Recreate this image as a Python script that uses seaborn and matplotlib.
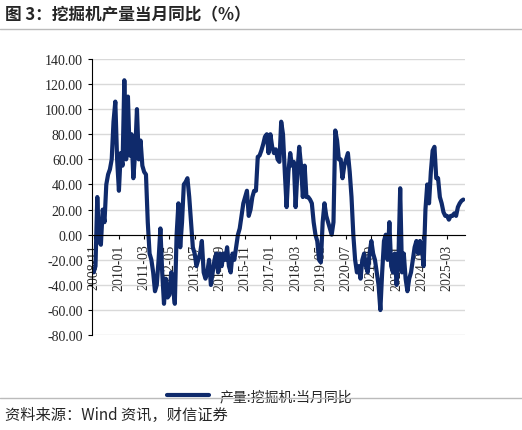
import numpy as np
import pandas as pd
import matplotlib
matplotlib.use('Agg')
import matplotlib.pyplot as plt
import seaborn as sns

# monthly yoy, 2008-11 .. 2025-12
y2008 = [-30, -25]
y2009 = [30, -5, -8, 20, 10, 40, 48, 52, 60, 90, 106, 60]
y2010 = [35, 65, 55, 123, 60, 110, 63, 80, 45, 65, 100, 60]
y2011 = [75, 55, 50, 48, 10, -15, -20, -30, -45, -40, -20, 5]
y2012 = [-30, -55, -35, -50, -48, -30, -42, -55, 0, 25, -10, 10]
y2013 = [40, 42, 45, 30, 10, -10, -15, -25, -20, -15, -5, -30]
y2014 = [-35, -30, -20, -40, -30, -20, -15, -30, -15, -25, -15, -20]
y2015 = [-10, -25, -30, -15, -20, -10, 0, 5, 15, 25, 30, 35]
y2016 = [15, 20, 30, 35, 35, 62, 63, 67, 72, 78, 80, 65]
y2017 = [80, 70, 65, 68, 60, 58, 90, 80, 50, 22, 50, 65]
y2018 = [55, 58, 22, 50, 70, 55, 30, 55, 30, 30, 28, 25]
y2019 = [10, 0, -5, -20, -22, 10, 25, 15, 10, 5, 0, 10]
y2020 = [83, 75, 60, 60, 45, 55, 60, 65, 50, 30, 0, -20]
y2021 = [-30, -25, -35, -20, -15, -25, -30, -15, -5, -15, -20, -30]
y2022 = [-40, -60, -30, -5, 0, -20, 10, -25, -30, -15, -40, -20]
y2023 = [37, -30, -15, -35, -45, -35, -30, -20, -10, -5, -15, -5]
y2024 = [-10, -25, 20, 40, 25, 50, 67, 70, 45, 45, 30, 25]
y2025 = [18, 15, 15, 12, 15, 15, 17, 15, 22, 25, 27, 28]
values = (y2008 + y2009 + y2010 + y2011 + y2012 + y2013 + y2014 + y2015 + y2016
          + y2017 + y2018 + y2019 + y2020 + y2021 + y2022 + y2023 + y2024 + y2025)
months = pd.date_range('2008-11-01', periods=len(values), freq='MS')
tick_labels = ['2008-11', '2010-01', '2011-03', '2012-05', '2013-07', '2014-09', '2015-11',
               '2017-01', '2018-03', '2019-05', '2020-07', '2021-09', '2022-11', '2024-01', '2025-03']
label = '产量:挖掘机:当月同比'

df = pd.DataFrame({'idx': np.arange(len(values)), 'v': values})

sns.set_style('white')
plt.rcParams['font.family'] = ['Liberation Serif', 'Noto Sans CJK SC']

fig = plt.figure(figsize=(5.22, 4.31), dpi=100)
ax = fig.add_axes([0.176, 0.22, 0.715, 0.641])
sns.lineplot(data=df, x='idx', y='v', ax=ax, color='#0f2a6b', lw=3, label=label)

ax.set_ylim(-80, 140)
ax.set_yticks(np.arange(-80, 141, 20))
ax.set_yticklabels([f'{t:.2f}' for t in np.arange(-80, 141, 20)], fontsize=10)
ax.yaxis.grid(True, color='#d9d9d9', lw=1)
ax.set_axisbelow(True)
ax.set_xlim(-1, len(values))
pos = [months.get_loc(pd.Timestamp(t + '-01')) for t in tick_labels]
ax.set_xticks(pos)
ax.set_xticklabels(tick_labels, fontsize=10)
ax.spines['bottom'].set_position(('data', 0))
for s in ['top', 'right']:
    ax.spines[s].set_visible(False)
ax.spines['left'].set_color('black')
ax.spines['bottom'].set_color('black')
ax.tick_params(axis='both', direction='out', length=3, color='black', bottom=True, left=True)
ax.tick_params(axis='x', labelrotation=90)
for t in ax.get_xticklabels():
    t.set_rotation(90)
    t.set_va('top')
    t.set_ha('center')
ax.set_xlabel('')
ax.set_ylabel('')

ax.legend(loc='upper center', bbox_to_anchor=(0.45, -0.15), frameon=False,
          prop={'family': ['Noto Sans CJK SC'], 'size': 10}, handlelength=3)

fig.text(0.01, 0.965, '图 3：挖掘机产量当月同比（%）', fontsize=12, fontweight='bold',
         family=['Noto Sans CJK SC'], va='center')
fig.text(0.01, 0.035, '资料来源：Wind 资讯，财信证券', fontsize=11, style='italic',
         family=['Noto Sans CJK SC'], va='center')
fig.add_artist(plt.Line2D([0.0, 1.0], [0.93, 0.93], color='#bbbbbb', lw=1))
fig.add_artist(plt.Line2D([0.0, 1.0], [0.075, 0.075], color='#bbbbbb', lw=1))

fig.savefig('out.png', dpi=100)
